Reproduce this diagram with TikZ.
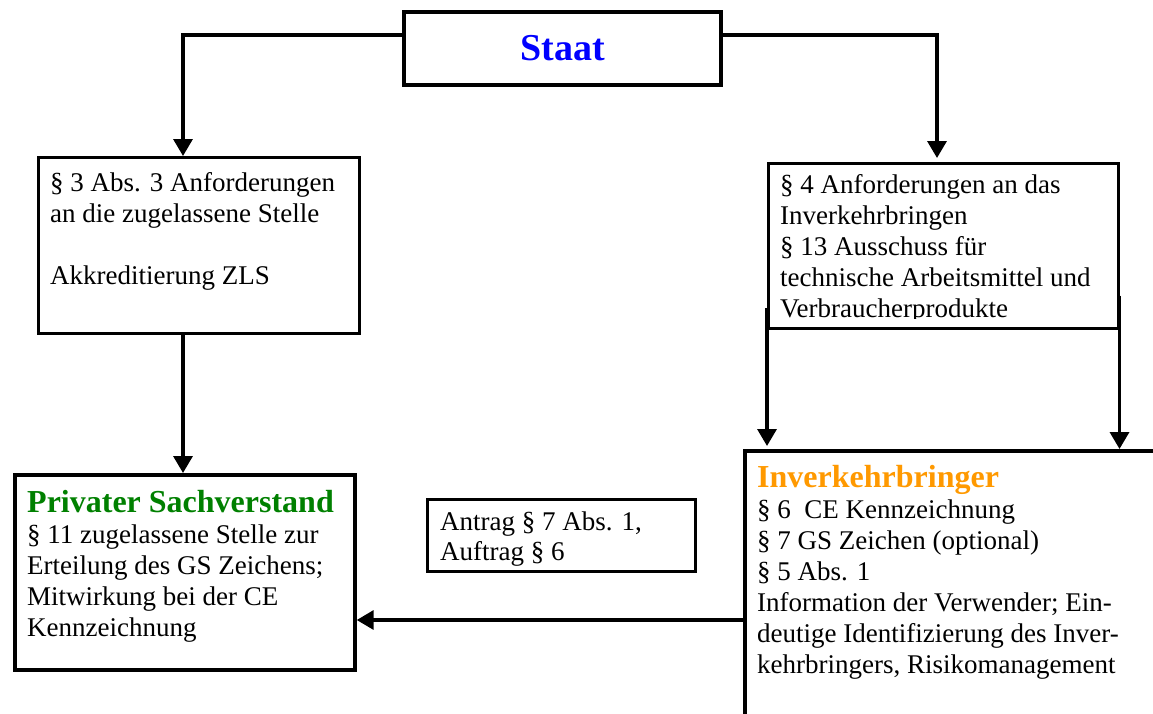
\documentclass[tikz,border=0pt]{standalone}
\usepackage{fontspec}
\setmainfont{Liberation Serif}
\usetikzlibrary{arrows.meta}
\definecolor{staatblue}{RGB}{0,0,255}
\definecolor{privgreen}{RGB}{0,128,0}
\definecolor{invorange}{RGB}{255,153,0}

% stacked lines with a fixed baseline distance, first line on the node's base
\newcommand{\txtlines}[1]{\vtop{\baselineskip=31pt\lineskiplimit=-10pt #1}}

\begin{document}
\begin{tikzpicture}[x=1pt,y=-1pt,
  thickbox/.style={draw, line width=4pt, rectangle, inner sep=0pt, anchor=north west},
  thinbox/.style={draw, line width=2.7pt, rectangle, inner sep=0pt, anchor=north west},
  conn/.style={line width=3.4pt, -{Triangle[width=19pt,length=17pt]}},
  body/.style={anchor=base west, inner sep=0pt, align=left, font=\fontsize{27}{31}\selectfont}]

\useasboundingbox (0,0) rectangle (1153,713);
\clip (0,0) rectangle (1153,713);

% boxes
\node[thickbox, minimum width=317pt, minimum height=73pt,
      font=\fontsize{38}{42}\selectfont\bfseries, text=staatblue] (staat) at (402,10) {Staat};
\node[thinbox, minimum width=321pt, minimum height=176pt] (lbox) at (37,156) {};
\begin{scope}
  \clip (767,162) rectangle (1117,318.5);
  \node[body] (rtext) at (780,193) {\txtlines{%
    \hbox{§ 4 Anforderungen an das}
    \hbox{Inverkehrbringen}
    \hbox{§ 13 Ausschuss für}
    \hbox{technische Arbeitsmittel und}
    \hbox{Verbraucherprodukte}}};
\end{scope}
\node[thinbox, line width=2.5pt, minimum width=350pt, minimum height=165pt] (rbox) at (767,162) {};
\node[thickbox, minimum width=340pt, minimum height=195pt] (priv) at (12.7,473) {};
\node[thinbox, line width=2.5pt, minimum width=268pt, minimum height=72pt] (antrag) at (426,498) {};
\node[thickbox, minimum width=450pt, minimum height=300pt] (inv) at (743,449) {};

% texts
\node[body] (ltext) at (50,191) {\txtlines{%
  \hbox{§ 3 Abs. 3 Anforderungen}
  \hbox{an die zugelassene Stelle}
  \hbox{}
  \hbox{Akkreditierung ZLS}}};
\node[body] (ptext) at (27,512) {\txtlines{%
  \hbox{\fontsize{32}{36}\selectfont\bfseries\color{privgreen}Privater Sachverstand}
  \hbox{§ 11 zugelassene Stelle zur}
  \hbox{Erteilung des GS Zeichens;}
  \hbox{Mitwirkung bei der CE}
  \hbox{Kennzeichnung}}};
\node[body] (atext) at (440,530) {\txtlines{\baselineskip=30pt
  \hbox{Antrag § 7 Abs. 1,}
  \hbox{Auftrag § 6}}};
\node[body] (itext) at (757,487) {\txtlines{%
  \hbox{\fontsize{32}{36}\selectfont\bfseries\color{invorange}Inverkehrbringer}
  \hbox{§ 6\ \ CE Kennzeichnung}
  \hbox{§ 7 GS Zeichen (optional)}
  \hbox{§ 5 Abs. 1}
  \hbox{Information der Verwender; Ein-}
  \hbox{deutige Identifizierung des Inver-}
  \hbox{kehrbringers, Risikomanagement}}};

% connectors
\draw[conn] (staat.west |- 0,35) -| ([xshift=146pt]lbox.north west);
\draw[conn, shorten >=4pt] (staat.east |- 0,35) -| ([xshift=170pt]rbox.north west);
\draw[conn] ([xshift=146pt]lbox.south west) -- ([xshift=170.3pt]priv.north west);
\draw[conn, shorten >=3pt] ([yshift=22pt]rbox.south west) -- (rbox.south west |- inv.north);
\draw[conn] ([yshift=34pt]rbox.south east) -- (rbox.south east |- inv.north);
\draw[conn] (inv.west |- 0,620) -- (priv.east |- 0,620);
\end{tikzpicture}
\end{document}
